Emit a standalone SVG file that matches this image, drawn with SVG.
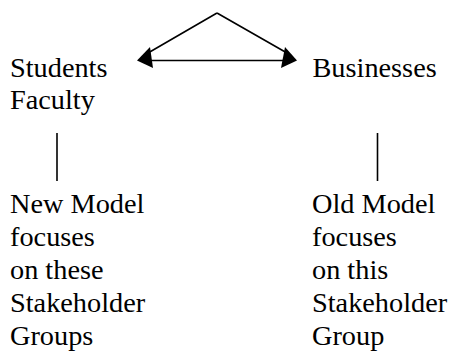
<svg xmlns="http://www.w3.org/2000/svg" width="457" height="352" viewBox="0 0 457 352">
  <style>
    .label { font-family: "Liberation Serif", "Times New Roman", serif; font-size: 28.3px; fill: #000; }
    .line { stroke: #000; stroke-width: 1.6; fill: none; }
    .head { fill: #000; stroke: none; }
  </style>
  <rect width="457" height="352" fill="#fff"/>

  <g id="connectors">
    <!-- triangle linking the two stakeholder sets -->
    <path class="line" d="M217,13 L148,53 M217,13 L287,53"/>
    <path class="line" d="M144,60.5 L290,60.5"/>
    <polygon class="head" points="137,60.5 150,47 153,68"/>
    <polygon class="head" points="297,60.5 285,47 281,68"/>
    <!-- vertical ties to the model notes -->
    <line class="line" x1="57" y1="133" x2="57" y2="181"/>
    <line class="line" x1="377.5" y1="133" x2="377.5" y2="181"/>
  </g>

  <g id="students-faculty">
    <text class="label" x="10" y="77">Students</text>
    <text class="label" x="10" y="109">Faculty</text>
  </g>

  <g id="businesses">
    <text class="label" x="312.5" y="77">Businesses</text>
  </g>

  <g id="new-model">
    <text class="label" x="10" y="212.5">New Model</text>
    <text class="label" x="10" y="245.5">focuses</text>
    <text class="label" x="10" y="278.5">on these</text>
    <text class="label" x="10" y="311.5">Stakeholder</text>
    <text class="label" x="10" y="344.5">Groups</text>
  </g>

  <g id="old-model">
    <text class="label" x="312" y="212.5">Old Model</text>
    <text class="label" x="312" y="245.5">focuses</text>
    <text class="label" x="312" y="278.5">on this</text>
    <text class="label" x="312" y="311.5">Stakeholder</text>
    <text class="label" x="312" y="344.5">Group</text>
  </g>
</svg>
